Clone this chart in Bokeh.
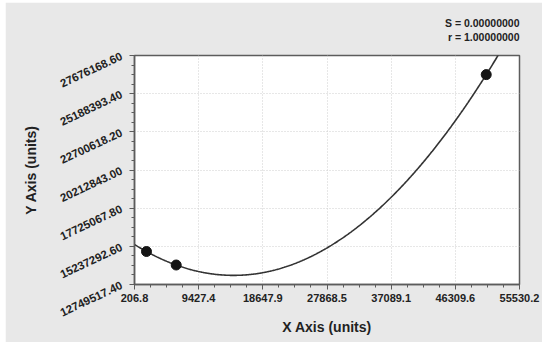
import numpy as np
from bokeh.plotting import figure
from bokeh.models import Range1d, FixedTicker, Title, Spacer
from bokeh.layouts import column, row
from bokeh.embed import file_html
from bokeh.resources import INLINE

# ---- data ----
x_tick_labels = ["206.8", "9427.4", "18647.9", "27868.5", "37089.1", "46309.6", "55530.2"]
y_tick_labels = ["12749517.40", "15237292.60", "17725067.80", "20212843.00",
                 "22700618.20", "25188393.40", "27676168.60"]
x_points = [1930, 6200, 50750]
y_points = [14900000, 14020000, 26430000]
stat_s = "S = 0.00000000"
stat_r = "r = 1.00000000"
x_title = "X Axis (units)"
y_title = "Y Axis (units)"

xt = [float(s) for s in x_tick_labels]
yt = [float(s) for s in y_tick_labels]


def minors(t, n=4):
    out = []
    for a, b in zip(t[:-1], t[1:]):
        for k in range(1, n):
            out.append(a + (b - a) * k / n)
    return out


FONT = "Liberation Sans"
AX = "#5c5c5c"

p = figure(width=537, height=340, output_backend="svg", toolbar_location=None,
           x_range=Range1d(xt[0], xt[-1]), y_range=Range1d(yt[0], yt[-1]),
           min_border_left=129, min_border_right=23, min_border_top=51, min_border_bottom=58)

p.background_fill_color = "white"
p.border_fill_color = "#e8e8e8"
p.outline_line_color = AX
p.outline_line_width = 1.5

p.xaxis.ticker = FixedTicker(ticks=xt, minor_ticks=minors(xt))
p.yaxis.ticker = FixedTicker(ticks=yt, minor_ticks=minors(yt))
p.xaxis.major_label_overrides = {v: s for v, s in zip(xt, x_tick_labels)}
p.yaxis.major_label_overrides = {v: s for v, s in zip(yt, y_tick_labels)}
p.yaxis.major_label_orientation = 0.44

for ax in (p.xaxis, p.yaxis):
    ax.axis_line_color = AX
    ax.axis_line_width = 1.5
    ax.major_tick_line_color = AX
    ax.minor_tick_line_color = AX
    ax.major_tick_out = 5
    ax.major_tick_in = 0
    ax.minor_tick_out = 3
    ax.minor_tick_in = 0
    ax.major_label_standoff = 4
    ax.major_label_text_font = FONT
    ax.major_label_text_font_size = "11px"
    ax.major_label_text_font_style = "bold"
    ax.major_label_text_color = "#222222"
    ax.axis_label_text_font = FONT
    ax.axis_label_text_font_size = "14px"
    ax.axis_label_text_font_style = "bold"
    ax.axis_label_text_color = "#222222"

p.yaxis.major_label_text_font_size = "11.5px"
p.yaxis.major_label_standoff = 8
p.xaxis.axis_label = x_title
p.yaxis.axis_label = y_title
p.xaxis.axis_label_standoff = 14
p.yaxis.axis_label_standoff = 15

for g in (p.xgrid, p.ygrid):
    g.grid_line_color = "#cfcfcf"
    g.grid_line_dash = "1 2"
    g.grid_line_width = 1

# fitted quadratic (exact through the three points, r = 1)
coef = np.polyfit(x_points, y_points, 2)
xs = np.linspace(xt[0], xt[-1], 500)
ys = np.polyval(coef, xs)
p.line(xs, ys, line_color="#333333", line_width=1.6)
p.scatter(x_points, y_points, size=10, fill_color="#151515", line_color="#151515")

# two right-aligned statistic lines (nbsp pads "r" to the width of "S")
p.add_layout(Title(text=stat_s + "\n\u00a0" + stat_r, align="right", text_font=FONT,
                   text_font_size="10.5px", text_font_style="bold", text_color="#222222",
                   text_line_height=1.16, standoff=25, offset=0), "above")

layout = column(Spacer(height=2, width=542), row(Spacer(width=5, height=340), p))
open("out.html", "w").write(file_html(layout, INLINE))
